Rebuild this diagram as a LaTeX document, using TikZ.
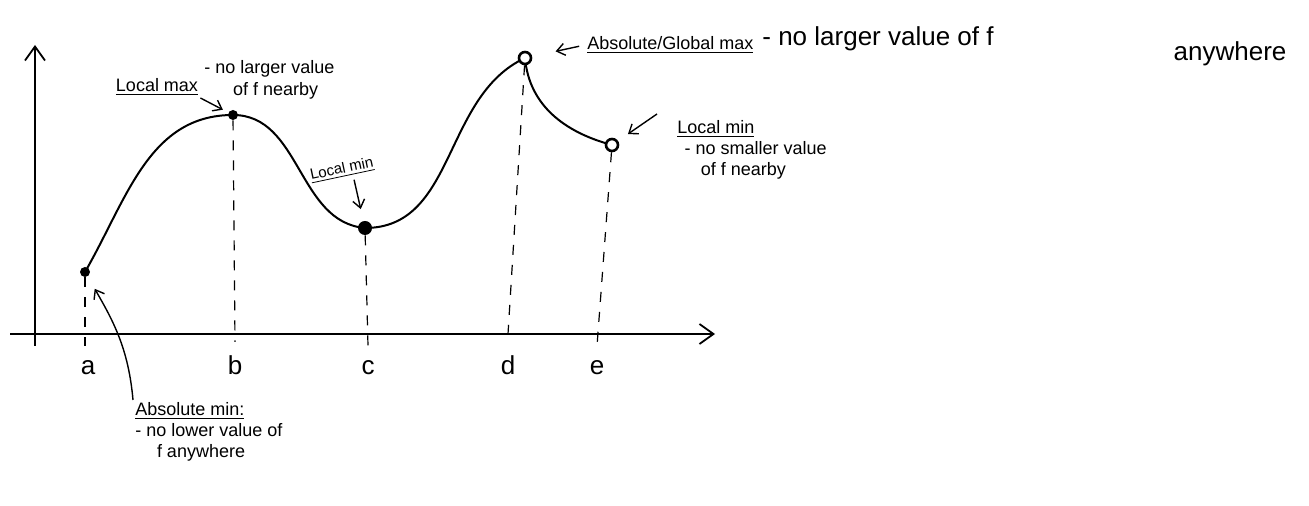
\documentclass[tikz,border=0pt]{standalone}
\usepackage{fontspec}
\setmainfont{Liberation Sans}
\usetikzlibrary{arrows.meta, positioning}

\begin{document}
\begin{tikzpicture}[x=0.5pt, y=0.5pt,
  axis/.style={line width=0.9pt, -{Straight Barb[length=7pt, width=10pt]}},
  curve/.style={line width=1pt},
  drop/.style={line width=0.6pt, dash pattern=on 5pt off 5pt},
  pt/.style={circle, fill, inner sep=0pt, minimum size=5pt},
  ring/.style={circle, draw, line width=1.3pt, fill=white, inner sep=0pt, minimum size=6pt},
  tick/.style={font=\fontsize{13}{15}\selectfont, inner sep=1pt, anchor=base},
  note/.style={font=\fontsize{9}{10.5}\selectfont, align=left, inner sep=1pt},
  bignote/.style={font=\fontsize{13}{15}\selectfont, inner sep=1pt},
  pointer/.style={line width=0.7pt, -{Straight Barb[length=4pt, width=6pt]}}
]
  \useasboundingbox (0,0) rectangle (1309,506);

  % axes
  \coordinate (xl) at (10,172);
  \coordinate (xr) at (715,172);
  \coordinate (yb) at (35,160);
  \coordinate (yt) at (35,461);
  \draw[axis] (yb) -- (yt);
  \draw[axis] (xl) -- (xr);

  % the graph of f
  \coordinate (pa) at (85,234);
  \coordinate (pb) at (233,391);
  \coordinate (pc) at (365,278);
  \coordinate (pd) at (525,448);
  \coordinate (pe) at (612,361);
  \draw[curve] (pa) to[out=60,in=180] (pb) to[out=0,in=175] (pc)
    to[out=0,in=205] (pd) to[out=-85,in=165] (pe);

  \node[pt]   (a) at (pa) {};
  \node[pt]   (b) at (pb) {};
  \node[pt, minimum size=7pt] (c) at (pc) {};
  \node[ring] (d) at (pd) {};
  \node[ring] (e) at (pe) {};

  % dashed drops to the x axis
  \coordinate (fa) at (85,160);
  \coordinate (fb) at (235,164);
  \coordinate (fc) at (368,160);
  \coordinate (fd) at (508,172);
  \coordinate (fe) at (597,160);
  \draw[drop] (a) -- (fa);
  \draw[drop] (b) -- (fb);
  \draw[drop] (c) -- (fc);
  \draw[drop] (d) -- (fd);
  \draw[drop] (e) -- (fe);

  \node[tick] (ta) at (88,131)  {a};
  \node[tick] (tb) at (235,131) {b};
  \node[tick] (tc) at (368,131) {c};
  \node[tick] (td) at (508,131) {d};
  \node[tick] (te) at (597,131) {e};

  % labels
  \node[note] (lmax) at (157,419) {\underline{Local max}};
  \node[note, font=\fontsize{9}{11}\selectfont, anchor=west] (lmaxtxt) at (202,426)
    {- no larger value\\\hspace{1.6em}of f nearby};
  \node[note, font=\fontsize{7.5}{9}\selectfont, rotate=12] (lminc) at (342,336)
    {\underline{Local min}};
  \node[note, anchor=west] (gmax) at (585,461) {\underline{Absolute/Global max}};
  \node[bignote, anchor=west] (gmaxtxt) at (760,467) {- no larger value of f};
  \node[bignote] (gmaxany) at (1230,452) {anywhere};
  \node[note, anchor=north west] (lmine) at (675,388)
    {\underline{Local min}\\\hspace{0.4em}- no smaller value\\\hspace{1.3em}of f nearby};
  \node[note, anchor=north west] (amin) at (133,106)
    {\underline{Absolute min:}\\- no lower value of\\\hspace{1.2em}f anywhere};

  \draw[pointer, shorten >=3pt] (lmax.south east) -- (b);
  \draw[pointer, shorten >=6pt] ([xshift=5pt]lminc.south) -- (c);
  \draw[pointer, shorten <=3pt, shorten >=12pt] (gmax.west) -- (d);
  \draw[pointer, shorten >=6pt] ([xshift=-9pt,yshift=2pt]lmine.north west) -- (e);
  \draw[pointer, shorten >=7pt] (amin.north west) to[out=95,in=-60] (a);
\end{tikzpicture}
\end{document}
